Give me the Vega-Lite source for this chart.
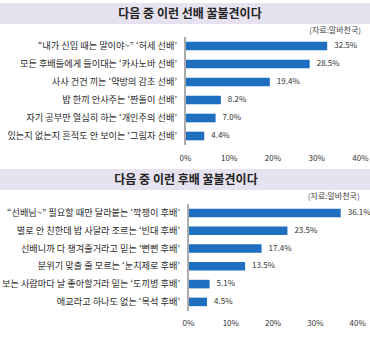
{
  "$schema": "https://vega.github.io/schema/vega-lite/v6.json",
  "padding": {"left": 0, "top": 3, "right": 0, "bottom": 0},
  "background": "white",
  "config": {
    "view": {"stroke": null},
    "font": "Noto Sans CJK KR",
    "axis": {"labelFont": "Noto Sans CJK KR"},
    "title": {"font": "Noto Sans CJK KR"}
  },
  "spacing": 7,
  "vconcat": [
    {
      "spacing": 2,
      "vconcat": [
        {
          "width": 370,
          "height": 21,
          "view": {"fill": "#e6e2ef", "stroke": null},
          "data": {"values": [{"t": "다음 중 이런 선배 꿀불견이다"}]},
          "mark": {"type": "text", "fontSize": 12, "fontWeight": "bold", "color": "#222222", "baseline": "middle", "align": "center", "dx": 5},
          "encoding": {"text": {"field": "t", "type": "nominal"}}
        },
        {
          "width": 370,
          "height": {"step": 18},
          "title": {"text": "(자료:알바천국)", "anchor": "end", "fontSize": 8, "fontWeight": "normal", "color": "#444444", "offset": 2, "dx": -9},
          "data": {"values": [
            {"label": "“내가 신입 때는 말이야~” ‘허세 선배’", "value": 0.325},
            {"label": "모든 후배들에게 들이대는 ‘카사노바 선배’", "value": 0.285},
            {"label": "사사 건건 끼는 ‘약방의 감초 선배’", "value": 0.194},
            {"label": "밥 한끼 안사주는 ‘짠돌이 선배’", "value": 0.082},
            {"label": "자기 공부만 열심히 하는 ‘개인주의 선배’", "value": 0.070},
            {"label": "있는지 없는지 흔적도 안 보이는 ‘그림자 선배’", "value": 0.044}
          ]},
          "layer": [
            {
              "mark": {"type": "bar", "color": "#1f6fc1"},
              "encoding": {
                "y": {"field": "label", "type": "nominal", "sort": null, "scale": {"paddingInner": 0.52, "paddingOuter": 0.26}, "axis": null},
                "x": {"field": "value", "type": "quantitative",
                      "scale": {"domain": [-0.42286, 0.42286], "nice": false, "zero": false},
                      "axis": {"title": null, "format": ".0%", "values": [0, 0.1, 0.2, 0.3, 0.4], "grid": false, "domain": false, "ticks": false, "labelFontSize": 8, "labelColor": "#333333", "labelPadding": 9, "labelFlush": false}}
              }
            },
            {
              "mark": {"type": "text", "align": "left", "dx": 7, "fontSize": 8, "color": "#333333"},
              "encoding": {
                "y": {"field": "label", "type": "nominal", "sort": null},
                "x": {"field": "value", "type": "quantitative"},
                "text": {"field": "value", "type": "quantitative", "format": ".1%"}
              }
            },
            {
              "mark": {"type": "text", "align": "right", "dx": -8, "fontSize": 9.2, "color": "#2a2a2a"},
              "encoding": {
                "y": {"field": "label", "type": "nominal", "sort": null},
                "x": {"datum": 0},
                "text": {"field": "label", "type": "nominal"}
              }
            },
            {
              "mark": {"type": "rule", "color": "#aaaaaa", "strokeWidth": 1},
              "encoding": {"x": {"datum": 0}}
            }
          ]
        }
      ]
    },
    {
      "spacing": 2,
      "vconcat": [
        {
          "width": 370,
          "height": 21,
          "view": {"fill": "#e6e2ef", "stroke": null},
          "data": {"values": [{"t": "다음 중 이런 후배 꿀불견이다"}]},
          "mark": {"type": "text", "fontSize": 12, "fontWeight": "bold", "color": "#222222", "baseline": "middle", "align": "center", "dx": 1},
          "encoding": {"text": {"field": "t", "type": "nominal"}}
        },
        {
          "width": 370,
          "height": {"step": 17.8},
          "title": {"text": "(자료:알바천국)", "anchor": "end", "fontSize": 8, "fontWeight": "normal", "color": "#444444", "offset": 3, "dx": -11},
          "data": {"values": [
            {"label": "“선배님~” 필요할 때만 달라붙는 ‘깍쟁이 후배’", "value": 0.361},
            {"label": "별로 안 친한데 밥 사달라 조르는 ‘빈대 후배’", "value": 0.235},
            {"label": "선배니까 다 챙겨줄거라고 믿는 ‘뻔뻔 후배’", "value": 0.174},
            {"label": "분위기 맞출 줄 모르는 ‘눈치제로 후배’", "value": 0.135},
            {"label": "보는 사람마다 날 좋아할거라 믿는 ‘도끼병 후배’", "value": 0.051},
            {"label": "애교라고 하나도 없는 ‘목석 후배’", "value": 0.045}
          ]},
          "layer": [
            {
              "mark": {"type": "bar", "color": "#1f6fc1"},
              "encoding": {
                "y": {"field": "label", "type": "nominal", "sort": null, "scale": {"paddingInner": 0.52, "paddingOuter": 0.26}, "axis": null},
                "x": {"field": "value", "type": "quantitative",
                      "scale": {"domain": [-0.4444, 0.4302], "nice": false, "zero": false},
                      "axis": {"title": null, "format": ".0%", "values": [0, 0.1, 0.2, 0.3, 0.4], "grid": false, "domain": false, "ticks": false, "labelFontSize": 8, "labelColor": "#333333", "labelPadding": 9, "labelFlush": false}}
              }
            },
            {
              "mark": {"type": "text", "align": "left", "dx": 7, "fontSize": 8, "color": "#333333"},
              "encoding": {
                "y": {"field": "label", "type": "nominal", "sort": null},
                "x": {"field": "value", "type": "quantitative"},
                "text": {"field": "value", "type": "quantitative", "format": ".1%"}
              }
            },
            {
              "mark": {"type": "text", "align": "right", "dx": -8, "fontSize": 9.2, "color": "#2a2a2a"},
              "encoding": {
                "y": {"field": "label", "type": "nominal", "sort": null},
                "x": {"datum": 0},
                "text": {"field": "label", "type": "nominal"}
              }
            },
            {
              "mark": {"type": "rule", "color": "#aaaaaa", "strokeWidth": 1},
              "encoding": {"x": {"datum": 0}}
            }
          ]
        }
      ]
    }
  ]
}
